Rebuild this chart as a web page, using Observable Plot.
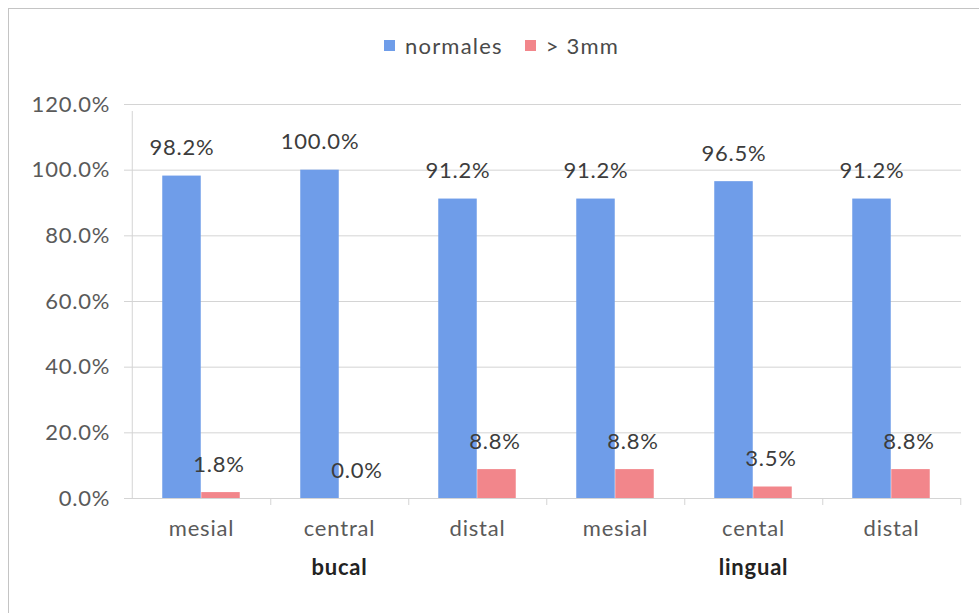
<!DOCTYPE html>
<html>
<head>
<meta charset="utf-8">
<script src="https://cdn.jsdelivr.net/npm/d3@7"></script>
<script src="https://cdn.jsdelivr.net/npm/@observablehq/plot@0.6"></script>
<style>
  html, body { margin: 0; padding: 0; background: #fff; overflow: hidden; }
  #frame { position: absolute; left: 8px; top: 8px; width: 990px; height: 620px;
           border-left: 1px solid #c4c4c4; border-top: 1px solid #c4c4c4; }
  #legend { height: 69px; position: relative; font-family: Lato, sans-serif; font-size: 22px;
            letter-spacing: 1.2px; color: #4a4a4a; }
  #legend .items { position: absolute; left: 375px; top: 23px; display: flex; gap: 22px; align-items: center; }
  #legend .item { display: flex; align-items: center; gap: 10px; }
  #legend .sw { width: 11px; height: 11px; display: inline-block; }
  svg { display: block; }
  svg text { letter-spacing: 0.8px; }
</style>
</head>
<body>
<div id="frame">
  <div id="legend"><div class="items"></div></div>
  <div id="chart"></div>
</div>
<script>
// ---- data ----
const positions = ["mesial", "central", "distal", "mesial", "cental", "distal"];
const surfaces  = ["bucal", "bucal", "bucal", "lingual", "lingual", "lingual"];
const normales  = [98.2, 100.0, 91.2, 91.2, 96.5, 91.2];
const mayor3mm  = [1.8, 0.0, 8.8, 8.8, 3.5, 8.8];
const groups    = ["bucal", "lingual"];
const seriesNames = ["normales", "> 3mm"];
const yTicks    = [0, 20, 40, 60, 80, 100, 120];

const colors = ["#6f9de9", "#f2868b"];

// ---- build table ----
const idx = positions.map((_, i) => i);
const rows = [];
idx.forEach(i => {
  rows.push({i, series: seriesNames[0], value: normales[i]});
  rows.push({i, series: seriesNames[1], value: mayor3mm[i]});
});
const groupRows = groups.map(g => {
  const members = idx.filter(i => surfaces[i] === g);
  return {g, i: members[Math.floor(members.length / 2)]};
});

// ---- legend ----
const items = document.querySelector("#legend .items");
seriesNames.forEach((s, k) => {
  const it = document.createElement("div");
  it.className = "item";
  it.innerHTML = `<span class="sw" style="background:${colors[k]}"></span><span>${s}</span>`;
  items.appendChild(it);
});

// ---- chart ----
const width = 971, height = 536;
const marginLeft = 121, marginRight = 19, marginTop = 26, marginBottom = 116;
const step = (width - marginLeft - marginRight) / idx.length;
const barW = 39;
const half = step / 2;
const fmt = v => v.toFixed(1) + "%";
const font = "Lato, sans-serif";
const fs = 22;

const chart = Plot.plot({
  width, height, marginLeft, marginRight, marginTop, marginBottom,
  style: {fontFamily: font, background: "transparent"},
  x: {domain: idx, padding: 0, axis: null},
  y: {domain: [0, 120], axis: null},
  marks: [
    Plot.gridY(yTicks, {stroke: "#d4d4d4", strokeOpacity: 1, insetLeft: -6}),
    Plot.ruleX([idx[0]], {x: d => d, y1: 0, y2: 120, dx: -half, stroke: "#d4d4d4", insetBottom: -7}),
    Plot.ruleX(idx, {x: d => d, y1: 0, y2: 0, dx: half, stroke: "#d4d4d4", insetBottom: -7}),
    Plot.barY(rows.filter(d => d.series === seriesNames[0]), {
      x: "i", y: "value", fill: colors[0],
      insetLeft: half - barW, insetRight: half
    }),
    Plot.barY(rows.filter(d => d.series === seriesNames[1]), {
      x: "i", y: "value", fill: colors[1],
      insetLeft: half, insetRight: half - barW
    }),
    Plot.text(rows.filter(d => d.series === seriesNames[0]), {
      x: "i", y: "value", text: d => fmt(d.value), dx: -barW / 2, dy: -28,
      fontSize: fs, fill: "#3c3c3c"
    }),
    Plot.text(rows.filter(d => d.series === seriesNames[1]), {
      x: "i", y: "value", text: d => fmt(d.value), dx: barW / 2 - 2, dy: -28,
      fontSize: fs, fill: "#3c3c3c"
    }),
    Plot.text(yTicks, {
      x: idx[0], y: d => d, text: d => fmt(d), dx: -half - 22, textAnchor: "end",
      fontSize: fs, fill: "#5a5a5a"
    }),
    Plot.text(idx, {
      x: d => d, y: 0, text: d => positions[d], dy: 30,
      fontSize: fs, fill: "#5a5a5a"
    }),
    Plot.text(groupRows, {
      x: "i", y: 0, text: "g", dy: 69,
      fontSize: fs, fontWeight: "bold", fill: "#222"
    })
  ]
});
document.getElementById("chart").appendChild(chart);
</script>
</body>
</html>
